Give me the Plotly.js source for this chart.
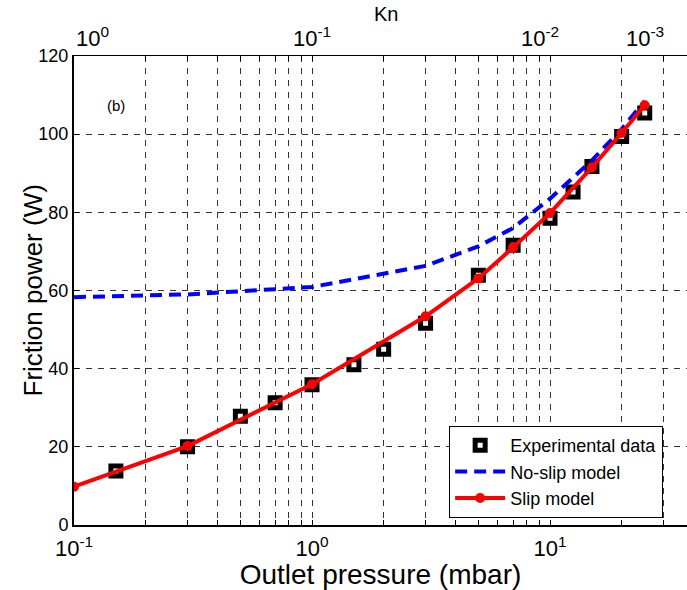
<!DOCTYPE html>
<html>
<head>
<meta charset="utf-8">
<script src="https://cdn.plot.ly/plotly-3.0.1.min.js"></script>
<style>html,body{margin:0;padding:0;background:#fff;}#chart{width:687px;height:590px;}</style>
</head>
<body>
<div id="chart"></div>
<script>
// Experimental data
const expPressure = [0.15, 0.3, 0.5, 0.7, 1.0, 1.5, 2, 3, 5, 7, 10, 12.5, 15, 20, 25];
const expPower    = [13.8, 20.0, 27.8, 31.3, 35.9, 41.0, 45.0, 51.6, 63.9, 71.6, 78.5, 85.2, 91.7, 99.4, 105.4];
// No-slip model
const noSlipPressure = [0.1, 0.3, 1, 2, 3, 5, 7, 10, 15, 20, 25];
const noSlipPower    = [58.3, 59.0, 60.9, 64.3, 66.3, 71.3, 76.0, 83.5, 93.3, 101.3, 108.5];
// Slip model
const slipPressure = [0.1, 0.3, 1, 3, 5, 7, 10, 15, 20, 25];
const slipPower    = [9.8, 20.2, 36.0, 53.4, 63.1, 71.0, 79.8, 91.5, 100.3, 107.4];
// Axis ticks
const xTickVals = [0.1,0.2,0.3,0.4,0.5,0.6,0.7,0.8,0.9,1,2,3,4,5,6,7,8,9,10,20,30];
const xTickText = xTickVals.map(v => v === 0.1 ? '10<sup>-1</sup>' : v === 1 ? '10<sup>0</sup>' : v === 10 ? '10<sup>1</sup>' : '');
// Top (Kn) labels: positions along the pressure axis where each label is centred
const knLabelPos  = [0.120, 1.0, 9.08, 25.0];
const knLabelText = ['10<sup>0</sup>', '10<sup>-1</sup>', '10<sup>-2</sup>', '10<sup>-3</sup>'];
const yTickVals = [0, 20, 40, 60, 80, 100, 120];

const font = 'Liberation Sans, Arial, Helvetica, sans-serif';

const traces = [
  {
    x: expPressure, y: expPower, name: 'Experimental data', mode: 'markers', type: 'scatter',
    marker: {symbol: 'square', size: 10, color: '#ffffff', line: {color: '#000000', width: 5}}
  },
  {
    x: noSlipPressure, y: noSlipPower, name: 'No-slip model', mode: 'lines', type: 'scatter',
    line: {color: '#0000ff', width: 4, dash: '12px,7px'}
  },
  {
    x: slipPressure, y: slipPower, name: 'Slip model', mode: 'lines+markers', type: 'scatter',
    line: {color: '#ff0000', width: 4},
    marker: {symbol: 'circle', size: 10, color: '#ff0000'}
  }
];

const annotations = knLabelPos.map((p, i) => ({
  text: knLabelText[i], xref: 'x', yref: 'paper', x: Math.log10(p), y: 1,
  xanchor: 'center', yanchor: 'bottom', yshift: 3, showarrow: false,
  font: {family: font, size: 22, color: '#000000'}
}));
annotations.push({
  text: 'Kn', xref: 'paper', yref: 'paper', x: 0.509, y: 1, xanchor: 'center', yanchor: 'middle',
  yshift: 42, showarrow: false, font: {family: font, size: 20, color: '#000000'}
});
annotations.push({
  text: '(b)', xref: 'paper', yref: 'paper', x: 0.051, y: 0.917, showarrow: false,
  font: {family: font, size: 15, color: '#000000'}
});
annotations.push({
  text: 'Friction power (W)', xref: 'paper', yref: 'paper', x: 0, y: 0.5,
  xanchor: 'center', yanchor: 'middle', xshift: -42, textangle: -90, showarrow: false,
  font: {family: font, size: 26, color: '#000000'}
});

const layout = {
  width: 687, height: 590,
  margin: {l: 74, r: 0, t: 56, b: 65},
  paper_bgcolor: '#ffffff', plot_bgcolor: '#ffffff',
  font: {family: font, color: '#000000', size: 17},
  showlegend: true,
  legend: {
    x: 0.612, y: 0.015, xanchor: 'left', yanchor: 'bottom',
    bgcolor: '#ffffff', bordercolor: '#000000', borderwidth: 1,
    font: {family: font, size: 18, color: '#000000'},
    itemwidth: 50, tracegroupgap: 0
  },
  xaxis: {
    type: 'log', range: [-1, 1.5756],
    tickvals: xTickVals, ticktext: xTickText,
    ticks: 'inside', ticklen: 5, tickcolor: '#000000', tickwidth: 1,
    showline: true, linecolor: '#000000', linewidth: 1.5, mirror: 'ticks',
    showgrid: true, gridcolor: '#333333', gridwidth: 1, griddash: '6px,6px',
    zeroline: false, ticklabelstandoff: 3,
    tickfont: {family: font, size: 22, color: '#000000'},
    title: {text: 'Outlet pressure (mbar)', font: {family: font, size: 28, color: '#000000'}, standoff: 4}
  },
  yaxis: {
    range: [0, 120], tickvals: yTickVals,
    ticks: 'inside', ticklen: 5, tickcolor: '#000000', tickwidth: 1,
    showline: true, linecolor: '#000000', linewidth: 2, mirror: false,
    showgrid: true, gridcolor: '#333333', gridwidth: 1, griddash: '6px,6px',
    zeroline: false,
    tickfont: {family: font, size: 18, color: '#000000'}
  },
  annotations: annotations
};

Plotly.newPlot('chart', traces, layout, {displayModeBar: false, staticPlot: true});
</script>
</body>
</html>
